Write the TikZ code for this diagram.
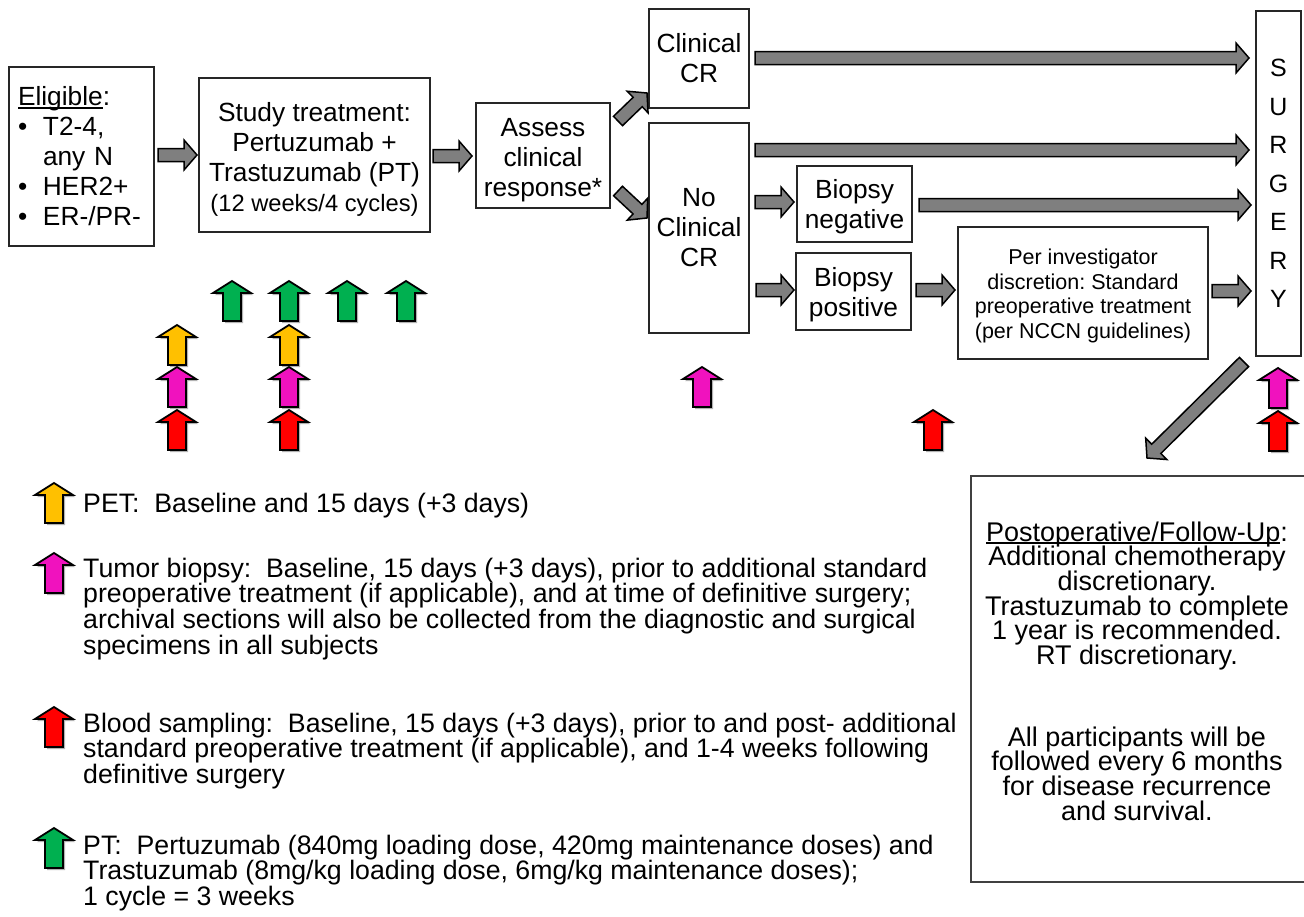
\documentclass[tikz,border=0pt]{standalone}
\usepackage{fontspec}
\setmainfont{Liberation Sans}
\usetikzlibrary{calc}
\frenchspacing
\definecolor{gfill}{HTML}{7F7F7F}
\definecolor{pgreen}{HTML}{00B050}
\definecolor{porange}{HTML}{FFC000}
\definecolor{pmag}{HTML}{F012BE}
\definecolor{pred}{HTML}{FF0000}
\newcommand\fs[2]{\fontsize{#1}{#2}\selectfont\lineskiplimit=-50pt\lineskip=0pt\relax}
\newcommand\myul[1]{{\setbox0\hbox{#1}\rlap{\rule[-2.6pt]{\wd0}{1.4pt}}\box0}}
\newcommand\garrow[2]{%
  \coordinate (hh) at ($(#2)!13pt!(#1)$);
  \draw[blockarr] ($(#1)!6.5pt!90:(#2)$) -- ($(hh)!6.5pt!-90:(#1)$) -- ($(hh)!15pt!-90:(#1)$) -- (#2)
     -- ($(hh)!15pt!90:(#1)$) -- ($(hh)!6.5pt!90:(#1)$) -- ($(#1)!6.5pt!-90:(#2)$) -- cycle;}
\tikzset{
  blockarr/.style={draw=black, line width=1.5pt, fill=gfill, line join=miter},
  box/.style={draw=black!85, line width=1.3pt, align=center, inner sep=0pt, font=\fs{26.3}{30}},
  legtext/.style={anchor=base west, inner sep=0pt, font=\fs{26.7}{24.7}},
  uparr/.pic={
    \fill[black!30, shift={(2,2)}] (-9,40) -- (-9,12) -- (-19,12) -- (0,0) -- (19,12) -- (9,12) -- (9,40) -- cycle;
    \draw[line width=1.8pt, fill=#1, line join=miter] (-9,40) -- (-9,12) -- (-19,12) -- (0,0) -- (19,12) -- (9,12) -- (9,40) -- cycle;}
}
\begin{document}
\begin{tikzpicture}[x=1pt, y=-1pt]
\useasboundingbox (0,0) rectangle (1304,916);
% boxes
\node[box, minimum width=145pt, minimum height=179pt, align=left, text width=127pt] (elig) at (81.5,156.5)
  {\myul{Eligible}:\\ \makebox[25pt][l]{•}T2-4,\\ \makebox[25pt][l]{}any N\\ \makebox[25pt][l]{•}HER2+\\ \makebox[25pt][l]{•}ER-/PR-};
\node[box, minimum width=231pt, minimum height=154pt] (study) at (314.5,155)
  {\rule{0pt}{27pt}Study treatment:\\ Pertuzumab +\\ Trastuzumab (PT)\\ {\fs{23.7}{31}(12 weeks/4 cycles)}};
\node[box, minimum width=134pt, minimum height=105pt] (assess) at (543,155.5) {\rule{0pt}{27pt}Assess\\ clinical\\ response*};
\node[box, minimum width=100pt, minimum height=99pt] (ccr) at (699,58.5) {Clinical\\ CR};
\node[box, minimum width=100pt, minimum height=210pt] (nccr) at (699,228) {No\\ Clinical\\ CR};
\node[box, minimum width=115pt, minimum height=76pt] (bneg) at (854.5,204) {\rule{0pt}{25pt}Biopsy\\ negative};
\node[box, minimum width=115pt, minimum height=77pt] (bpos) at (853.5,291.5) {\rule{0pt}{25pt}Biopsy\\ positive};
\node[box, minimum width=250pt, minimum height=132pt, font=\fs{21.5}{24.5}] (per) at (1083,293)
  {\rule{0pt}{21pt}Per investigator\\ discretion: Standard\\ preoperative treatment\\ (per NCCN guidelines)};
\node[box, minimum width=45pt, minimum height=345pt, font=\fs{25}{38.5}] (surg) at (1278.5,183.5)
  {S\\ U\\ R\\ G\\ E\\ R\\ Y};
% postoperative box (runs off the right edge)
\draw[draw=black!75, line width=1.5pt] (1306,476) -| (971,882) -- (1306,882);
\node[align=center, inner sep=0pt, font=\fs{27}{24.6}] (post) at (1137,671)
  {\myul{Postoperative/Follow-Up}:\\ Additional chemotherapy\\ discretionary.\\ Trastuzumab to complete\\
   1 year is recommended.\\ RT discretionary.\\[57.5pt] All participants will be\\ followed every 6 months\\
   for disease recurrence\\ and survival.};
% block arrow end points
\coordinate (a1s) at (158,155);  \coordinate (a1e) at (197,155);
\coordinate (a2s) at (433,156);  \coordinate (a2e) at (472,156);
\coordinate (a3s) at (618,121);  \coordinate (a3e) at (647,93);
\coordinate (a4s) at (618,191);  \coordinate (a4e) at (647,218);
\coordinate (a5s) at (755,58);   \coordinate (a5e) at (1249,58);
\coordinate (a6s) at (755,150);  \coordinate (a6e) at (1249,150);
\coordinate (a7s) at (755,202);  \coordinate (a7e) at (794,202);
\coordinate (a8s) at (919,205);  \coordinate (a8e) at (1251,205);
\coordinate (a9s) at (756,290);  \coordinate (a9e) at (794,290);
\coordinate (a10s) at (916,290); \coordinate (a10e) at (955,290);
\coordinate (a11s) at (1212,291); \coordinate (a11e) at (1251,291);
\coordinate (a12s) at (1244,362); \coordinate (a12e) at (1147,458);
\garrow{a1s}{a1e}
\garrow{a2s}{a2e}
\garrow{a3s}{a3e}
\garrow{a4s}{a4e}
\garrow{a5s}{a5e}
\garrow{a6s}{a6e}
\garrow{a7s}{a7e}
\garrow{a8s}{a8e}
\garrow{a9s}{a9e}
\garrow{a10s}{a10e}
\garrow{a11s}{a11e}
\garrow{a12s}{a12e}
% timing arrows
\pic at (232,281) {uparr=pgreen};
\pic at (289,281) {uparr=pgreen};
\pic at (347,281) {uparr=pgreen};
\pic at (406,281) {uparr=pgreen};
\pic at (177,325) {uparr=porange};
\pic at (289,325) {uparr=porange};
\pic at (177,367) {uparr=pmag};
\pic at (289,367) {uparr=pmag};
\pic at (177,410) {uparr=pred};
\pic at (289,410) {uparr=pred};
\pic at (702,367) {uparr=pmag};
\pic at (933,410) {uparr=pred};
\pic at (1278,368) {uparr=pmag};
\pic at (1278,411) {uparr=pred};
% legend
\pic at (54,483) {uparr=porange};
\pic at (54,553) {uparr=pmag};
\pic at (54,707) {uparr=pred};
\pic at (54,828) {uparr=pgreen};
\node[legtext] (lpet) at (83,512) {\parbox[t]{1000pt}{PET:\ \ Baseline and 15 days (+3 days)}};
\node[legtext] (ltum) at (83,577) {\parbox[t]{1000pt}{Tumor biopsy:\ \ Baseline, 15 days (+3 days), prior to additional standard\\
  preoperative treatment (if applicable), and at time of definitive surgery;\\
  archival sections will also be collected from the diagnostic and surgical\\
  specimens in all subjects}};
\node[legtext] (lblood) at (83,732) {\parbox[t]{1000pt}{Blood sampling:\ \ Baseline, 15 days (+3 days), prior to and post- additional\\
  standard preoperative treatment (if applicable), and 1-4 weeks following\\
  definitive surgery}};
\node[legtext] (lpt) at (83,854) {\parbox[t]{1000pt}{PT:\ \ Pertuzumab (840mg loading dose, 420mg maintenance doses) and\\
  Trastuzumab (8mg/kg loading dose, 6mg/kg maintenance doses);\\
  1 cycle = 3 weeks}};
\end{tikzpicture}
\end{document}
